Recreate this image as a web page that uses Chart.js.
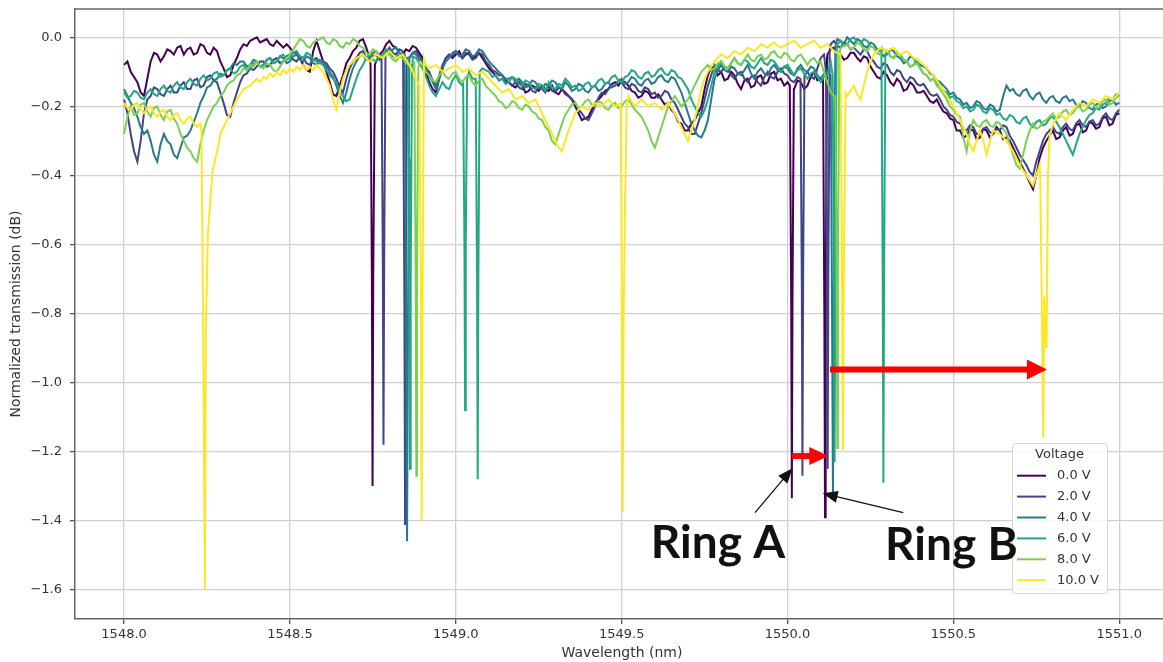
<!DOCTYPE html>
<html>
<head>
<meta charset="utf-8">
<title>Normalized transmission vs wavelength</title>
<script src="https://cdn.jsdelivr.net/npm/chart.js@4.4.1/dist/chart.umd.min.js"></script>
<style>
  html, body { margin: 0; padding: 0; background: #fff; overflow: hidden; }
  #wrap { width: 1172px; height: 662px; }
</style>
</head>
<body>
<div id="wrap"><canvas id="spectrum" width="1172" height="662"></canvas></div>
<script>
// sweep wavelengths (nm) shared by all traces
const wavelengths = [
  1548.00,1548.01,1548.02,1548.03,1548.04,1548.05,1548.06,1548.07,1548.08,1548.09,1548.10,1548.11,1548.12,1548.13,1548.14,1548.15,1548.16,1548.17,1548.18,1548.19,
  1548.20,1548.21,1548.22,1548.23,1548.24,1548.25,1548.26,1548.27,1548.28,1548.29,1548.30,1548.31,1548.32,1548.33,1548.34,1548.35,1548.36,1548.37,1548.38,1548.39,
  1548.40,1548.41,1548.42,1548.43,1548.44,1548.45,1548.46,1548.47,1548.48,1548.49,1548.50,1548.51,1548.52,1548.53,1548.54,1548.55,1548.56,1548.57,1548.58,1548.59,
  1548.60,1548.61,1548.62,1548.63,1548.64,1548.65,1548.66,1548.67,1548.68,1548.69,1548.70,1548.71,1548.72,1548.73,1548.74,1548.75,1548.76,1548.77,1548.78,1548.79,
  1548.80,1548.81,1548.82,1548.83,1548.84,1548.85,1548.86,1548.87,1548.88,1548.89,1548.90,1548.91,1548.92,1548.93,1548.94,1548.95,1548.96,1548.97,1548.98,1548.99,
  1549.00,1549.01,1549.02,1549.03,1549.04,1549.05,1549.06,1549.07,1549.08,1549.09,1549.10,1549.11,1549.12,1549.13,1549.14,1549.15,1549.16,1549.17,1549.18,1549.19,
  1549.20,1549.21,1549.22,1549.23,1549.24,1549.25,1549.26,1549.27,1549.28,1549.29,1549.30,1549.31,1549.32,1549.33,1549.34,1549.35,1549.36,1549.37,1549.38,1549.39,
  1549.40,1549.41,1549.42,1549.43,1549.44,1549.45,1549.46,1549.47,1549.48,1549.49,1549.50,1549.51,1549.52,1549.53,1549.54,1549.55,1549.56,1549.57,1549.58,1549.59,
  1549.60,1549.61,1549.62,1549.63,1549.64,1549.65,1549.66,1549.67,1549.68,1549.69,1549.70,1549.71,1549.72,1549.73,1549.74,1549.75,1549.76,1549.77,1549.78,1549.79,
  1549.80,1549.81,1549.82,1549.83,1549.84,1549.85,1549.86,1549.87,1549.88,1549.89,1549.90,1549.91,1549.92,1549.93,1549.94,1549.95,1549.96,1549.97,1549.98,1549.99,
  1550.00,1550.01,1550.02,1550.03,1550.04,1550.05,1550.06,1550.07,1550.08,1550.09,1550.10,1550.11,1550.12,1550.13,1550.14,1550.15,1550.16,1550.17,1550.18,1550.19,
  1550.20,1550.21,1550.22,1550.23,1550.24,1550.25,1550.26,1550.27,1550.28,1550.29,1550.30,1550.31,1550.32,1550.33,1550.34,1550.35,1550.36,1550.37,1550.38,1550.39,
  1550.40,1550.41,1550.42,1550.43,1550.44,1550.45,1550.46,1550.47,1550.48,1550.49,1550.50,1550.51,1550.52,1550.53,1550.54,1550.55,1550.56,1550.57,1550.58,1550.59,
  1550.60,1550.61,1550.62,1550.63,1550.64,1550.65,1550.66,1550.67,1550.68,1550.69,1550.70,1550.71,1550.72,1550.73,1550.74,1550.75,1550.76,1550.77,1550.78,1550.79,
  1550.80,1550.81,1550.82,1550.83,1550.84,1550.85,1550.86,1550.87,1550.88,1550.89,1550.90,1550.91,1550.92,1550.93,1550.94,1550.95,1550.96,1550.97,1550.98,1550.99,
  1551.00
];

// baseline transmission (dB) for each heater voltage, one row per 0.2 nm
const trans0V = [
  -0.08,-0.07,-0.10,-0.115,-0.13,-0.16,-0.17,-0.12,-0.07,-0.045,-0.05,-0.07,-0.055,-0.035,-0.04,-0.05,-0.03,-0.025,-0.05,-0.035,
  -0.03,-0.05,-0.045,-0.02,-0.025,-0.045,-0.05,-0.03,-0.04,-0.07,-0.09,-0.115,-0.11,-0.08,-0.06,-0.035,-0.02,-0.025,-0.01,-0.005,
  0.00,-0.015,-0.01,-0.005,-0.02,-0.025,-0.01,-0.02,-0.03,-0.02,-0.03,-0.045,-0.045,-0.06,-0.08,-0.095,-0.10,-0.04,-0.01,-0.04,
  -0.07,-0.10,-0.13,-0.165,-0.17,-0.14,-0.11,-0.075,-0.06,-0.04,-0.03,-0.01,-0.005,-0.03,-0.06,-0.07,-0.07,-0.05,-0.04,-0.02,
  -0.01,-0.025,-0.03,-0.045,-0.05,-0.035,-0.04,-0.025,-0.03,-0.045,-0.06,-0.10,-0.13,-0.15,-0.16,-0.12,-0.09,-0.06,-0.05,-0.06,
  -0.05,-0.04,-0.06,-0.05,-0.045,-0.06,-0.055,-0.045,-0.06,-0.075,-0.09,-0.10,-0.11,-0.125,-0.12,-0.13,-0.13,-0.14,-0.145,-0.13,
  -0.14,-0.16,-0.155,-0.14,-0.145,-0.155,-0.14,-0.15,-0.155,-0.14,-0.16,-0.165,-0.15,-0.16,-0.17,-0.18,-0.20,-0.22,-0.24,-0.235,
  -0.23,-0.21,-0.19,-0.18,-0.17,-0.155,-0.15,-0.135,-0.13,-0.14,-0.125,-0.13,-0.14,-0.155,-0.16,-0.175,-0.17,-0.155,-0.16,-0.175,
  -0.175,-0.165,-0.18,-0.195,-0.19,-0.21,-0.22,-0.245,-0.25,-0.27,-0.27,-0.25,-0.24,-0.22,-0.20,-0.15,-0.11,-0.085,-0.09,-0.11,
  -0.10,-0.125,-0.12,-0.10,-0.11,-0.135,-0.15,-0.125,-0.12,-0.145,-0.14,-0.115,-0.11,-0.135,-0.13,-0.105,-0.10,-0.125,-0.12,-0.14,
  -0.13,-0.14,-0.15,-0.125,-0.13,-0.15,-0.14,-0.115,-0.10,-0.125,-0.12,-0.10,-0.05,-0.035,-0.03,-0.045,-0.05,-0.065,-0.06,-0.045,
  -0.045,-0.06,-0.07,-0.055,-0.06,-0.085,-0.10,-0.115,-0.12,-0.10,-0.11,-0.13,-0.14,-0.12,-0.13,-0.155,-0.15,-0.13,-0.14,-0.16,
  -0.16,-0.155,-0.17,-0.185,-0.19,-0.18,-0.20,-0.215,-0.22,-0.235,-0.24,-0.27,-0.27,-0.29,-0.285,-0.265,-0.27,-0.295,-0.29,-0.265,
  -0.27,-0.29,-0.28,-0.26,-0.27,-0.295,-0.29,-0.30,-0.32,-0.34,-0.36,-0.38,-0.40,-0.42,-0.44,-0.40,-0.35,-0.32,-0.30,-0.285,
  -0.27,-0.295,-0.29,-0.27,-0.26,-0.285,-0.28,-0.255,-0.25,-0.275,-0.27,-0.245,-0.25,-0.265,-0.26,-0.235,-0.23,-0.255,-0.25,-0.225,
  -0.22
];
const trans2V = [
  -0.18,-0.22,-0.28,-0.33,-0.36,-0.30,-0.22,-0.18,-0.17,-0.145,-0.15,-0.165,-0.17,-0.15,-0.14,-0.16,-0.16,-0.14,-0.13,-0.15,
  -0.15,-0.125,-0.12,-0.145,-0.14,-0.115,-0.11,-0.125,-0.13,-0.16,-0.19,-0.225,-0.23,-0.19,-0.16,-0.13,-0.11,-0.105,-0.09,-0.095,
  -0.085,-0.07,-0.07,-0.085,-0.08,-0.065,-0.06,-0.075,-0.07,-0.055,-0.05,-0.065,-0.07,-0.055,-0.06,-0.075,-0.08,-0.065,-0.06,-0.075,
  -0.07,-0.075,-0.09,-0.10,-0.12,-0.145,-0.16,-0.12,-0.09,-0.07,-0.06,-0.045,-0.04,-0.06,-0.07,-0.055,-0.05,-0.065,-0.06,-0.045,
  -0.03,-0.045,-0.05,-0.035,-0.04,-0.055,-0.06,-0.045,-0.04,-0.055,-0.07,-0.09,-0.10,-0.125,-0.14,-0.11,-0.08,-0.06,-0.05,-0.055,
  -0.04,-0.05,-0.06,-0.045,-0.05,-0.065,-0.06,-0.045,-0.05,-0.07,-0.08,-0.095,-0.10,-0.11,-0.11,-0.125,-0.13,-0.14,-0.13,-0.145,
  -0.15,-0.135,-0.14,-0.155,-0.16,-0.145,-0.15,-0.16,-0.14,-0.155,-0.16,-0.145,-0.15,-0.165,-0.17,-0.18,-0.19,-0.21,-0.22,-0.235,
  -0.24,-0.22,-0.20,-0.175,-0.16,-0.165,-0.15,-0.14,-0.14,-0.125,-0.13,-0.145,-0.15,-0.135,-0.14,-0.155,-0.16,-0.145,-0.15,-0.165,
  -0.16,-0.175,-0.17,-0.155,-0.16,-0.18,-0.19,-0.21,-0.23,-0.25,-0.26,-0.28,-0.28,-0.25,-0.22,-0.18,-0.14,-0.11,-0.08,-0.095,
  -0.10,-0.085,-0.09,-0.11,-0.12,-0.105,-0.10,-0.12,-0.13,-0.115,-0.11,-0.13,-0.14,-0.115,-0.10,-0.115,-0.12,-0.10,-0.09,-0.105,
  -0.11,-0.125,-0.13,-0.115,-0.12,-0.105,-0.10,-0.115,-0.12,-0.09,-0.06,-0.05,-0.04,-0.02,-0.01,-0.025,-0.03,-0.015,-0.02,-0.035,
  -0.03,-0.04,-0.05,-0.035,-0.04,-0.06,-0.07,-0.085,-0.09,-0.075,-0.08,-0.10,-0.11,-0.095,-0.10,-0.12,-0.13,-0.115,-0.12,-0.135,
  -0.14,-0.135,-0.15,-0.165,-0.17,-0.165,-0.18,-0.20,-0.21,-0.225,-0.23,-0.245,-0.25,-0.265,-0.27,-0.255,-0.26,-0.28,-0.28,-0.265,
  -0.26,-0.275,-0.28,-0.265,-0.27,-0.255,-0.26,-0.285,-0.30,-0.32,-0.34,-0.355,-0.37,-0.39,-0.40,-0.36,-0.33,-0.30,-0.28,-0.27,
  -0.26,-0.275,-0.28,-0.26,-0.25,-0.265,-0.27,-0.25,-0.24,-0.255,-0.26,-0.245,-0.24,-0.255,-0.25,-0.23,-0.22,-0.235,-0.24,-0.22,
  -0.21
];
const trans4V = [
  -0.15,-0.17,-0.19,-0.205,-0.23,-0.26,-0.28,-0.27,-0.30,-0.34,-0.36,-0.31,-0.28,-0.30,-0.31,-0.34,-0.35,-0.32,-0.29,-0.285,
  -0.27,-0.245,-0.22,-0.19,-0.17,-0.145,-0.14,-0.125,-0.12,-0.105,-0.11,-0.095,-0.09,-0.075,-0.08,-0.07,-0.07,-0.085,-0.08,-0.065,
  -0.07,-0.085,-0.08,-0.065,-0.06,-0.075,-0.07,-0.055,-0.06,-0.075,-0.07,-0.055,-0.05,-0.065,-0.07,-0.055,-0.06,-0.075,-0.08,-0.065,
  -0.07,-0.085,-0.10,-0.115,-0.14,-0.17,-0.19,-0.16,-0.12,-0.09,-0.07,-0.055,-0.05,-0.065,-0.06,-0.045,-0.04,-0.055,-0.06,-0.045,
  -0.05,-0.035,-0.03,-0.045,-0.05,-0.065,-0.06,-0.045,-0.05,-0.065,-0.07,-0.09,-0.11,-0.13,-0.15,-0.12,-0.09,-0.07,-0.06,-0.045,
  -0.04,-0.055,-0.05,-0.035,-0.04,-0.055,-0.05,-0.035,-0.04,-0.055,-0.07,-0.08,-0.09,-0.10,-0.11,-0.12,-0.12,-0.115,-0.13,-0.12,
  -0.13,-0.145,-0.14,-0.125,-0.13,-0.145,-0.15,-0.135,-0.14,-0.125,-0.13,-0.145,-0.15,-0.13,-0.14,-0.155,-0.15,-0.135,-0.14,-0.155,
  -0.16,-0.145,-0.14,-0.155,-0.15,-0.135,-0.13,-0.145,-0.14,-0.125,-0.12,-0.135,-0.13,-0.115,-0.12,-0.135,-0.14,-0.125,-0.12,-0.135,
  -0.13,-0.115,-0.11,-0.125,-0.13,-0.115,-0.12,-0.14,-0.16,-0.19,-0.22,-0.25,-0.27,-0.285,-0.29,-0.27,-0.24,-0.18,-0.12,-0.095,
  -0.08,-0.095,-0.10,-0.085,-0.09,-0.105,-0.11,-0.095,-0.08,-0.105,-0.12,-0.10,-0.09,-0.105,-0.11,-0.09,-0.08,-0.095,-0.10,-0.085,
  -0.09,-0.105,-0.11,-0.09,-0.08,-0.095,-0.10,-0.085,-0.09,-0.11,-0.12,-0.105,-0.10,-0.06,-0.02,-0.005,-0.01,-0.02,0.00,-0.01,
  -0.02,-0.005,-0.01,-0.025,-0.03,-0.015,-0.02,-0.035,-0.04,-0.055,-0.05,-0.035,-0.04,-0.055,-0.06,-0.075,-0.07,-0.055,-0.06,-0.075,
  -0.08,-0.085,-0.09,-0.105,-0.11,-0.125,-0.13,-0.14,-0.15,-0.165,-0.16,-0.175,-0.18,-0.195,-0.19,-0.205,-0.20,-0.185,-0.19,-0.205,
  -0.21,-0.195,-0.20,-0.215,-0.21,-0.17,-0.14,-0.155,-0.15,-0.165,-0.17,-0.155,-0.15,-0.17,-0.18,-0.165,-0.16,-0.18,-0.19,-0.175,
  -0.17,-0.185,-0.19,-0.175,-0.17,-0.185,-0.18,-0.195,-0.20,-0.185,-0.19,-0.205,-0.21,-0.195,-0.19,-0.205,-0.20,-0.185,-0.18,-0.195,
  -0.19
];
const trans6V = [
  -0.16,-0.175,-0.17,-0.155,-0.16,-0.175,-0.18,-0.16,-0.15,-0.165,-0.17,-0.15,-0.14,-0.155,-0.16,-0.14,-0.13,-0.145,-0.15,-0.13,
  -0.12,-0.135,-0.14,-0.12,-0.11,-0.125,-0.12,-0.105,-0.10,-0.115,-0.11,-0.095,-0.09,-0.105,-0.10,-0.085,-0.08,-0.095,-0.09,-0.075,
  -0.07,-0.085,-0.08,-0.065,-0.06,-0.075,-0.07,-0.055,-0.05,-0.065,-0.06,-0.045,-0.04,-0.055,-0.06,-0.045,-0.05,-0.065,-0.07,-0.075,
  -0.08,-0.095,-0.11,-0.12,-0.13,-0.155,-0.17,-0.185,-0.18,-0.15,-0.12,-0.095,-0.08,-0.06,-0.05,-0.065,-0.07,-0.055,-0.05,-0.035,
  -0.04,-0.055,-0.06,-0.045,-0.05,-0.065,-0.07,-0.055,-0.06,-0.075,-0.09,-0.115,-0.14,-0.16,-0.17,-0.15,-0.13,-0.145,-0.15,-0.125,
  -0.11,-0.13,-0.14,-0.115,-0.10,-0.12,-0.13,-0.105,-0.09,-0.095,-0.10,-0.115,-0.11,-0.125,-0.12,-0.135,-0.13,-0.115,-0.12,-0.135,
  -0.14,-0.125,-0.13,-0.145,-0.15,-0.135,-0.14,-0.155,-0.13,-0.145,-0.15,-0.135,-0.14,-0.12,-0.13,-0.145,-0.14,-0.155,-0.15,-0.135,
  -0.13,-0.145,-0.14,-0.125,-0.12,-0.135,-0.13,-0.115,-0.11,-0.125,-0.13,-0.115,-0.11,-0.095,-0.10,-0.115,-0.12,-0.105,-0.10,-0.115,
  -0.11,-0.095,-0.09,-0.105,-0.11,-0.095,-0.10,-0.115,-0.12,-0.135,-0.15,-0.18,-0.20,-0.22,-0.23,-0.21,-0.18,-0.14,-0.10,-0.085,
  -0.07,-0.085,-0.09,-0.075,-0.06,-0.075,-0.08,-0.065,-0.07,-0.085,-0.09,-0.075,-0.06,-0.075,-0.08,-0.065,-0.07,-0.085,-0.10,-0.085,
  -0.08,-0.095,-0.11,-0.095,-0.09,-0.105,-0.12,-0.105,-0.10,-0.115,-0.13,-0.115,-0.11,-0.07,-0.03,-0.02,-0.01,-0.025,-0.02,-0.005,
  0.00,-0.015,-0.02,-0.005,-0.01,-0.025,-0.03,-0.045,-0.05,-0.035,-0.04,-0.055,-0.06,-0.045,-0.05,-0.065,-0.07,-0.085,-0.08,-0.065,
  -0.09,-0.105,-0.11,-0.125,-0.12,-0.135,-0.14,-0.155,-0.16,-0.175,-0.17,-0.185,-0.19,-0.205,-0.20,-0.215,-0.21,-0.195,-0.20,-0.215,
  -0.22,-0.205,-0.21,-0.225,-0.22,-0.235,-0.24,-0.225,-0.23,-0.245,-0.25,-0.235,-0.23,-0.25,-0.26,-0.245,-0.24,-0.255,-0.25,-0.235,
  -0.23,-0.245,-0.26,-0.28,-0.30,-0.32,-0.34,-0.31,-0.28,-0.26,-0.24,-0.225,-0.22,-0.205,-0.21,-0.195,-0.19,-0.175,-0.18,-0.165,
  -0.17
];
const trans8V = [
  -0.28,-0.23,-0.20,-0.225,-0.22,-0.195,-0.19,-0.215,-0.23,-0.205,-0.20,-0.225,-0.24,-0.215,-0.21,-0.235,-0.25,-0.28,-0.30,-0.32,
  -0.33,-0.35,-0.36,-0.31,-0.27,-0.24,-0.22,-0.20,-0.19,-0.17,-0.16,-0.14,-0.13,-0.125,-0.11,-0.105,-0.09,-0.095,-0.08,-0.085,
  -0.07,-0.085,-0.09,-0.075,-0.08,-0.095,-0.10,-0.085,-0.07,-0.06,-0.05,-0.035,-0.02,-0.005,-0.01,-0.025,-0.03,-0.015,-0.01,-0.005,
  0.00,-0.015,-0.02,-0.005,-0.01,-0.025,-0.03,-0.015,-0.02,-0.005,-0.01,-0.025,-0.03,-0.045,-0.05,-0.035,-0.04,-0.055,-0.06,-0.045,
  -0.05,-0.065,-0.07,-0.055,-0.06,-0.075,-0.08,-0.095,-0.09,-0.075,-0.08,-0.10,-0.11,-0.125,-0.13,-0.11,-0.10,-0.115,-0.12,-0.105,
  -0.10,-0.12,-0.13,-0.115,-0.11,-0.13,-0.14,-0.125,-0.12,-0.14,-0.15,-0.16,-0.17,-0.185,-0.19,-0.205,-0.20,-0.185,-0.19,-0.205,
  -0.21,-0.195,-0.20,-0.215,-0.22,-0.235,-0.24,-0.26,-0.27,-0.30,-0.31,-0.28,-0.25,-0.225,-0.21,-0.195,-0.19,-0.205,-0.20,-0.185,
  -0.18,-0.195,-0.20,-0.185,-0.19,-0.205,-0.21,-0.195,-0.19,-0.205,-0.20,-0.185,-0.18,-0.195,-0.21,-0.22,-0.23,-0.25,-0.27,-0.30,
  -0.32,-0.29,-0.26,-0.23,-0.20,-0.185,-0.17,-0.185,-0.20,-0.19,-0.18,-0.16,-0.14,-0.12,-0.10,-0.09,-0.08,-0.095,-0.09,-0.075,
  -0.07,-0.085,-0.09,-0.075,-0.06,-0.075,-0.08,-0.065,-0.05,-0.065,-0.07,-0.055,-0.05,-0.065,-0.06,-0.045,-0.04,-0.055,-0.06,-0.045,
  -0.05,-0.065,-0.07,-0.055,-0.05,-0.065,-0.08,-0.065,-0.06,-0.075,-0.07,-0.10,-0.13,-0.16,-0.17,-0.05,-0.03,-0.025,-0.02,-0.035,
  -0.03,-0.015,-0.02,-0.035,-0.04,-0.025,-0.03,-0.045,-0.05,-0.035,-0.04,-0.055,-0.06,-0.045,-0.05,-0.065,-0.07,-0.085,-0.08,-0.075,
  -0.09,-0.105,-0.11,-0.125,-0.12,-0.14,-0.15,-0.165,-0.18,-0.20,-0.21,-0.225,-0.23,-0.29,-0.33,-0.27,-0.24,-0.255,-0.26,-0.245,
  -0.24,-0.255,-0.26,-0.245,-0.25,-0.265,-0.28,-0.31,-0.34,-0.37,-0.38,-0.34,-0.30,-0.27,-0.25,-0.265,-0.26,-0.245,-0.24,-0.23,
  -0.22,-0.235,-0.23,-0.215,-0.21,-0.225,-0.22,-0.205,-0.20,-0.215,-0.21,-0.195,-0.19,-0.205,-0.20,-0.185,-0.18,-0.195,-0.19,-0.175,
  -0.17
];
const trans10V = [
  -0.19,-0.205,-0.21,-0.195,-0.19,-0.21,-0.22,-0.205,-0.20,-0.22,-0.23,-0.215,-0.21,-0.23,-0.24,-0.225,-0.22,-0.24,-0.25,-0.235,
  -0.23,-0.25,-0.26,-0.25,-0.28,-0.31,-0.38,-0.34,-0.31,-0.28,-0.26,-0.24,-0.22,-0.20,-0.18,-0.165,-0.15,-0.145,-0.14,-0.13,
  -0.12,-0.13,-0.115,-0.12,-0.105,-0.115,-0.10,-0.11,-0.095,-0.105,-0.09,-0.10,-0.085,-0.095,-0.08,-0.095,-0.085,-0.095,-0.08,-0.09,
  -0.10,-0.12,-0.14,-0.18,-0.21,-0.16,-0.12,-0.095,-0.08,-0.07,-0.06,-0.055,-0.05,-0.06,-0.07,-0.06,-0.05,-0.055,-0.06,-0.05,
  -0.04,-0.05,-0.06,-0.055,-0.05,-0.065,-0.08,-0.10,-0.12,-0.13,-0.07,-0.08,-0.09,-0.085,-0.08,-0.09,-0.10,-0.095,-0.09,-0.085,
  -0.08,-0.09,-0.10,-0.095,-0.09,-0.10,-0.11,-0.105,-0.10,-0.11,-0.12,-0.13,-0.14,-0.15,-0.16,-0.155,-0.15,-0.165,-0.18,-0.175,
  -0.17,-0.18,-0.19,-0.185,-0.18,-0.20,-0.22,-0.24,-0.26,-0.28,-0.30,-0.32,-0.33,-0.30,-0.27,-0.245,-0.22,-0.21,-0.20,-0.205,
  -0.21,-0.20,-0.19,-0.195,-0.20,-0.19,-0.18,-0.19,-0.20,-0.195,-0.19,-0.18,-0.17,-0.185,-0.20,-0.19,-0.18,-0.19,-0.20,-0.195,
  -0.19,-0.20,-0.21,-0.20,-0.19,-0.205,-0.22,-0.24,-0.26,-0.28,-0.30,-0.27,-0.24,-0.195,-0.15,-0.12,-0.10,-0.085,-0.07,-0.06,
  -0.05,-0.055,-0.06,-0.05,-0.04,-0.045,-0.05,-0.04,-0.03,-0.035,-0.04,-0.03,-0.02,-0.025,-0.03,-0.02,-0.015,-0.025,-0.03,-0.025,
  -0.02,-0.015,-0.01,-0.02,-0.03,-0.025,-0.02,-0.015,-0.01,-0.02,-0.03,-0.025,-0.02,-0.03,-0.04,-0.045,-0.05,-0.10,-0.17,-0.155,
  -0.14,-0.165,-0.18,-0.14,-0.10,-0.07,-0.05,-0.04,-0.03,-0.035,-0.04,-0.035,-0.03,-0.04,-0.05,-0.045,-0.04,-0.05,-0.06,-0.065,
  -0.07,-0.08,-0.09,-0.10,-0.11,-0.125,-0.14,-0.155,-0.17,-0.185,-0.20,-0.22,-0.24,-0.26,-0.28,-0.31,-0.33,-0.30,-0.27,-0.30,
  -0.34,-0.30,-0.27,-0.275,-0.28,-0.29,-0.30,-0.315,-0.33,-0.35,-0.37,-0.385,-0.40,-0.415,-0.43,-0.40,-0.37,-0.35,-0.33,-0.29,
  -0.25,-0.235,-0.22,-0.23,-0.24,-0.225,-0.21,-0.20,-0.19,-0.195,-0.20,-0.19,-0.18,-0.185,-0.19,-0.18,-0.17,-0.175,-0.18,-0.17,
  -0.16
];

// ring resonances, [wavelength, dB] samples across each notch
const dips0V = [
  [[1548.743,-0.08],[1548.747,-0.70],[1548.749,-1.30],[1548.751,-0.70],[1548.756,-0.08]],
  [[1550.007,-0.14],[1550.011,-0.75],[1550.013,-1.335],[1550.015,-0.75],[1550.019,-0.15]],
  [[1550.107,-0.12],[1550.111,-0.80],[1550.113,-1.39],[1550.115,-0.80],[1550.119,-0.06]]
];
const dips2V = [
  [[1548.776,-0.06],[1548.780,-0.65],[1548.782,-1.18],[1548.784,-0.65],[1548.788,-0.05]],
  [[1548.841,-0.05],[1548.845,-0.75],[1548.847,-1.41],[1548.849,-0.75],[1548.853,-0.06]],
  [[1550.039,-0.12],[1550.043,-0.70],[1550.045,-1.27],[1550.047,-0.70],[1550.051,-0.11]],
  [[1550.116,-0.10],[1550.119,-0.70],[1550.121,-1.25],[1550.123,-0.70],[1550.127,-0.04]]
];
const dips4V = [
  [[1548.846,-0.05],[1548.850,-0.80],[1548.853,-1.46],[1548.856,-0.80],[1548.860,-0.06]],
  [[1550.130,-0.11],[1550.134,-0.75],[1550.137,-1.33],[1550.140,-0.70],[1550.144,-0.03]]
];
const dips6V = [
  [[1548.855,-0.06],[1548.859,-0.35],[1548.860,-0.80],[1548.862,-1.25],[1548.864,-0.70],[1548.868,-0.08]],
  [[1549.022,-0.13],[1549.026,-0.60],[1549.028,-1.08],[1549.030,-0.60],[1549.034,-0.12]],
  [[1549.060,-0.12],[1549.064,-0.70],[1549.066,-1.28],[1549.068,-0.70],[1549.072,-0.10]],
  [[1550.136,-0.11],[1550.140,-0.70],[1550.142,-1.23],[1550.144,-0.65],[1550.148,-0.04]],
  [[1550.283,-0.04],[1550.287,-0.70],[1550.289,-1.29],[1550.291,-0.70],[1550.295,-0.05]]
];
const dips8V = [
  [[1548.875,-0.08],[1548.879,-0.70],[1548.881,-1.27],[1548.883,-0.70],[1548.887,-0.09]],
  [[1550.144,-0.17],[1550.148,-0.65],[1550.150,-1.19],[1550.152,-0.65],[1550.156,-0.05]]
];
const dips10V = [
  [[1548.233,-0.27],[1548.236,-0.57],[1548.2385,-0.85],[1548.2435,-1.60],[1548.2465,-0.85],[1548.2525,-0.57],[1548.2665,-0.39],[1548.285,-0.31]],
  [[1548.890,-0.14],[1548.894,-0.70],[1548.897,-1.40],[1548.900,-0.70],[1548.904,-0.06]],
  [[1549.497,-0.19],[1549.500,-0.70],[1549.503,-1.374],[1549.506,-0.80],[1549.510,-0.50],[1549.515,-0.20]],
  [[1550.160,-0.05],[1550.164,-0.65],[1550.167,-1.195],[1550.170,-0.65],[1550.175,-0.16]],
  [[1550.762,-0.42],[1550.767,-0.80],[1550.771,-1.16],[1550.774,-0.75],[1550.778,-0.88],[1550.781,-0.90],[1550.785,-0.40]]
];

const voltageLabels = ['0.0 V', '2.0 V', '4.0 V', '6.0 V', '8.0 V', '10.0 V'];
const xTicks = [1548.0, 1548.5, 1549.0, 1549.5, 1550.0, 1550.5, 1551.0];
const yTicks = [0.0, -0.2, -0.4, -0.6, -0.8, -1.0, -1.2, -1.4, -1.6];

// resonance shift markers: [wavelength, dB]
const shiftArrows = [
  { from: [1550.128, -0.962], to: [1550.782, -0.962] },
  { from: [1550.013, -1.213], to: [1550.123, -1.213] }
];
const ringNotes = [
  { text: 'Ring A', at: [1549.588, -1.507], tail: [1549.902, -1.377], tip: [1550.015, -1.248] },
  { text: 'Ring B', at: [1550.294, -1.514], tail: [1550.349, -1.377], tip: [1550.106, -1.321] }
];

const viridis = ['#440154', '#414487', '#2a788e', '#22a884', '#7ad151', '#fde725'];
const baselines = [trans0V, trans2V, trans4V, trans6V, trans8V, trans10V];
const notches = [dips0V, dips2V, dips4V, dips6V, dips8V, dips10V];

// merge a baseline with its notch samples, dropping grid points inside a notch
function buildPoints(values, dips) {
  const spans = dips.map(g => [g[0][0], g[g.length - 1][0]]);
  const pts = [];
  wavelengths.forEach((w, i) => {
    if (!spans.some(([a, b]) => w >= a && w <= b)) pts.push({ x: w, y: values[i] });
  });
  dips.forEach(g => g.forEach(([x, y]) => pts.push({ x, y })));
  return pts.sort((a, b) => a.x - b.x);
}

const datasets = voltageLabels.map((label, i) => ({
  label,
  data: buildPoints(baselines[i], notches[i]),
  borderColor: viridis[i],
  backgroundColor: viridis[i],
  borderWidth: 2,
  pointRadius: 0,
  tension: 0,
  order: voltageLabels.length - 1 - i   // higher voltage drawn on top
}));

function arrowHead(ctx, x0, y0, x1, y1, len, half) {
  const a = Math.atan2(y1 - y0, x1 - x0);
  ctx.beginPath();
  ctx.moveTo(x1, y1);
  ctx.lineTo(x1 - len * Math.cos(a) + half * Math.sin(a), y1 - len * Math.sin(a) - half * Math.cos(a));
  ctx.lineTo(x1 - len * Math.cos(a) - half * Math.sin(a), y1 - len * Math.sin(a) + half * Math.cos(a));
  ctx.closePath();
  ctx.fill();
}

const decorations = {
  id: 'decorations',
  afterDatasetsDraw(chart) {
    const { ctx, chartArea: area, scales: { x, y } } = chart;
    ctx.save();

    // top spine
    ctx.strokeStyle = '#666';
    ctx.lineWidth = 1.5;
    ctx.beginPath();
    ctx.moveTo(area.left, area.top);
    ctx.lineTo(area.right, area.top);
    ctx.stroke();

    // legend box, lower right
    const lx = area.right - 157, ly = area.bottom - 176;
    ctx.fillStyle = 'rgba(255,255,255,0.8)';
    ctx.strokeStyle = '#d6d6d6';
    ctx.lineWidth = 1;
    ctx.beginPath();
    ctx.roundRect(lx + 0.5, ly + 0.5, 95, 150, 4);
    ctx.fill();
    ctx.stroke();
    ctx.font = '13px "DejaVu Sans"';
    ctx.fillStyle = '#333';
    ctx.textBaseline = 'middle';
    ctx.textAlign = 'center';
    ctx.fillText('Voltage', lx + 47.5, ly + 12);
    ctx.textAlign = 'left';
    chart.data.datasets.forEach((ds, k) => {
      const ey = ly + 32.7 + k * 20.9;
      ctx.strokeStyle = ds.borderColor;
      ctx.lineWidth = 2;
      ctx.beginPath();
      ctx.moveTo(lx + 5, ey);
      ctx.lineTo(lx + 34, ey);
      ctx.stroke();
      ctx.fillStyle = '#333';
      ctx.fillText(ds.label, lx + 45, ey);
    });

    // red shift arrows
    ctx.strokeStyle = '#ff0000';
    ctx.fillStyle = '#ff0000';
    shiftArrows.forEach((a, k) => {
      const x0 = x.getPixelForValue(a.from[0]), y0 = y.getPixelForValue(a.from[1]);
      const x1 = x.getPixelForValue(a.to[0]), y1 = y.getPixelForValue(a.to[1]);
      const len = k === 0 ? 20 : 19, half = k === 0 ? 10 : 9;
      ctx.lineWidth = 6;
      ctx.beginPath();
      ctx.moveTo(x0, y0);
      ctx.lineTo(x1 - len + 2, y1);
      ctx.stroke();
      arrowHead(ctx, x0, y0, x1, y1, len, half);
    });

    // ring labels with pointer arrows
    ctx.strokeStyle = '#111';
    ctx.fillStyle = '#111';
    ringNotes.forEach(n => {
      const x0 = x.getPixelForValue(n.tail[0]), y0 = y.getPixelForValue(n.tail[1]);
      const x1 = x.getPixelForValue(n.tip[0]), y1 = y.getPixelForValue(n.tip[1]);
      const a = Math.atan2(y1 - y0, x1 - x0);
      ctx.lineWidth = 1.3;
      ctx.beginPath();
      ctx.moveTo(x0, y0);
      ctx.lineTo(x1 - 12 * Math.cos(a), y1 - 12 * Math.sin(a));
      ctx.stroke();
      arrowHead(ctx, x0, y0, x1, y1, 15, 6);
      ctx.font = 'bold 46px Lato';
      ctx.textAlign = 'left';
      ctx.textBaseline = 'alphabetic';
      ctx.fillText(n.text, x.getPixelForValue(n.at[0]), y.getPixelForValue(n.at[1]));
    });

    ctx.restore();
  }
};

Chart.defaults.font.family = '"DejaVu Sans", sans-serif';
Chart.defaults.color = '#333';

new Chart(document.getElementById('spectrum'), {
  type: 'line',
  data: { datasets },
  options: {
    responsive: false,
    animation: false,
    devicePixelRatio: 1,
    layout: { padding: { top: 9, right: 3, left: 0, bottom: 0 } },
    plugins: { legend: { display: false }, tooltip: { enabled: false } },
    scales: {
      x: {
        type: 'linear',
        min: 1547.852,
        max: 1551.15,
        afterBuildTicks: s => { s.ticks = xTicks.map(v => ({ value: v })); },
        afterFit: s => { s.height = 43; },
        ticks: {
          callback: v => v.toFixed(1),
          font: { size: 13 },
          color: '#333',
          padding: 3,
          maxRotation: 0,
          autoSkip: false
        },
        grid: { color: '#d0d0d0', lineWidth: 1.3, tickLength: 5, tickColor: '#555', tickWidth: 1.3 },
        border: { color: '#666', width: 1.5 },
        title: { display: true, text: 'Wavelength (nm)', font: { size: 14 }, color: '#333', padding: { top: 0, bottom: 0 } }
      },
      y: {
        type: 'linear',
        min: -1.685,
        max: 0.082,
        afterBuildTicks: s => { s.ticks = yTicks.map(v => ({ value: v })); },
        // fixed axis width; no extra label padding above/below the plot
        afterFit: s => { s.width = 75; s.paddingTop = 0; s.paddingBottom = 0; },
        ticks: {
          callback: v => (v < 0 ? '\u2212' : '') + Math.abs(v).toFixed(1),
          font: { size: 13 },
          color: '#333',
          padding: 8,
          autoSkip: false
        },
        grid: { color: '#d0d0d0', lineWidth: 1.3, tickLength: 5, tickColor: '#555', tickWidth: 1.3 },
        border: { color: '#666', width: 1.5 },
        title: { display: true, text: 'Normalized transmission (dB)', font: { size: 14 }, color: '#333', padding: { top: 8, bottom: 0 } }
      }
    }
  },
  plugins: [decorations]
});
</script>
</body>
</html>
